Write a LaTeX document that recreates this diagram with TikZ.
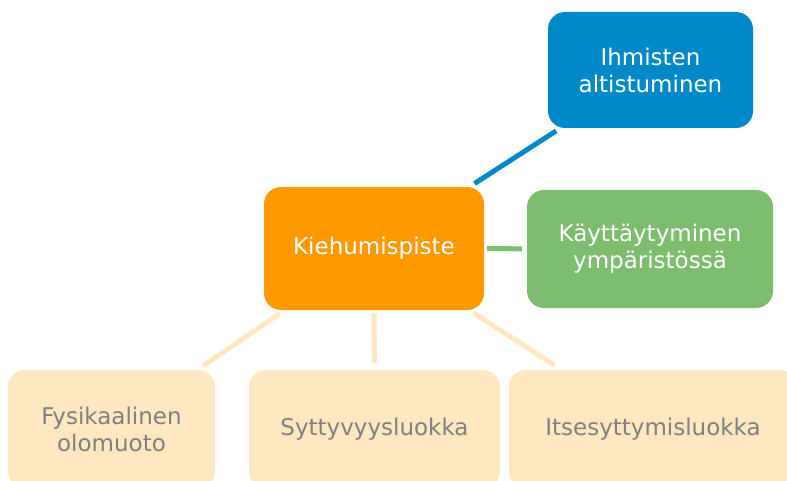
\documentclass[tikz,border=0pt]{standalone}
\usepackage{fontspec}
\setmainfont{DejaVu Sans}
\definecolor{boxblue}{HTML}{0088C8}
\definecolor{boxorange}{HTML}{FF9900}
\definecolor{boxgreen}{HTML}{7DBE6E}
\definecolor{boxpeach}{HTML}{FFE7C0}
\definecolor{peachline}{HTML}{FFE7C0}
\definecolor{textgray}{HTML}{808080}
\tikzset{
  card/.style={rectangle, rounded corners=17pt, align=center, inner sep=0pt,
    font=\fontsize{23}{27}\selectfont},
  topcard/.style={card, text=white},
  lowcard/.style={card, fill=boxpeach, text=textgray},
  link/.style={line width=5pt},
}
\begin{document}
\begin{tikzpicture}[x=1pt, y=-1pt]
  \useasboundingbox (0,0) rectangle (787,481);
  \clip (0,0) rectangle (787,481);

  % central property and the three upper cards
  \node[topcard, fill=boxorange, minimum width=220pt, minimum height=123pt]
    (kp) at (374,248.5) {Kiehumispiste};
  \node[topcard, fill=boxblue, minimum width=205pt, minimum height=116pt]
    (ih) at (650.5,70) {Ihmisten\\altistuminen};
  \node[topcard, fill=boxgreen, minimum width=246pt, minimum height=118pt]
    (ky) at (650,249) {Käyttäytyminen\\ympäristössä};

  % lower cards, running past the lower and right edges
  \node[lowcard, minimum width=207pt, minimum height=118pt]
    (fy) at (111.5,429) {Fysikaalinen\\olomuoto};
  \node[lowcard, minimum width=251pt, minimum height=118pt]
    (sy) at (374.5,429) {Syttyvyysluokka};
  \node[lowcard, minimum width=288pt, minimum height=118pt]
    (it) at (653,429) {Itsesyttymisluokka};

  % connectors, kept clear of the card borders
  \draw[link, boxblue, shorten <=6pt, shorten >=5pt] (kp) -- (ih);
  \draw[link, boxgreen, shorten <=3pt, shorten >=5pt] (kp) -- (ky);
  \draw[link, peachline, shorten <=5pt, shorten >=7pt] (kp) -- (fy);
  \draw[link, peachline, shorten <=3pt, shorten >=7pt] (kp) -- (sy);
  \draw[link, peachline, shorten <=5pt, shorten >=8pt] (kp) -- (it);
\end{tikzpicture}
\end{document}
